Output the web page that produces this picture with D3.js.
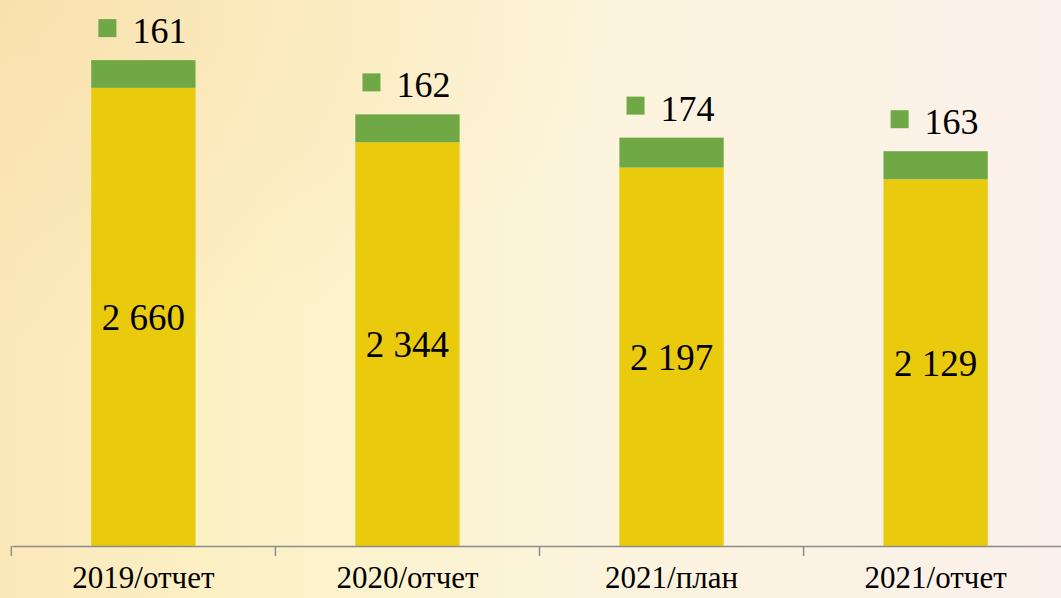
<!DOCTYPE html>
<html>
<head>
<meta charset="utf-8">
<script src="https://cdn.jsdelivr.net/npm/d3@7"></script>
<style>
    html, body { margin: 0; padding: 0; }
    #chart { width: 1061px; height: 598px; }
    svg text { font-family: "Liberation Serif", "Times New Roman", Times, serif; }
</style>
</head>
<body>
<div id="chart"></div>
<script>
// data
const categories = ["2019/отчет", "2020/отчет", "2021/план", "2021/отчет"];
const baseValues = [2660, 2344, 2197, 2129];
const topValues = [161, 162, 174, 163];

function createStackedChart() {
    const width = 1061;
    const height = 598;
    const serif = '"Liberation Serif", "Times New Roman", Times, serif';

    const svg = d3.select("#chart")
        .append("svg")
        .attr("width", width)
        .attr("height", height);

    // background gradient
    const defs = svg.append("defs");
    const bg = defs.append("linearGradient")
        .attr("id", "bg")
        .attr("x1", "0%").attr("y1", "0%")
        .attr("x2", "100%").attr("y2", "0%");
    bg.append("stop").attr("offset", "0%").attr("stop-color", "#fbe8b9");
    bg.append("stop").attr("offset", "25%").attr("stop-color", "#fcf2c8");
    bg.append("stop").attr("offset", "55%").attr("stop-color", "#fcf4dc");
    bg.append("stop").attr("offset", "100%").attr("stop-color", "#fbf1ec");

    const glow = defs.append("radialGradient")
        .attr("id", "glow")
        .attr("cx", "0%").attr("cy", "0%").attr("r", "60%");
    glow.append("stop").attr("offset", "0%").attr("stop-color", "#f8dca8").attr("stop-opacity", 0.6);
    glow.append("stop").attr("offset", "100%").attr("stop-color", "#f8dca8").attr("stop-opacity", 0);

    svg.append("rect").attr("width", width).attr("height", height).attr("fill", "url(#bg)");
    svg.append("rect").attr("width", width).attr("height", height).attr("fill", "url(#glow)");

    const baseline = 546;

    const x = d3.scaleBand()
        .domain(categories)
        .range([12, 1067])
        .paddingInner(0.605)
        .paddingOuter(0.3);

    const y = d3.scaleLinear()
        .domain([0, 3170])
        .range([baseline, 0]);

    const rows = categories.map((c, i) => ({
        cat: c, base: baseValues[i], top: topValues[i]
    }));

    // yellow segments
    svg.append("g")
        .selectAll("rect")
        .data(rows)
        .join("rect")
        .attr("x", d => x(d.cat))
        .attr("width", x.bandwidth())
        .attr("y", d => y(d.base))
        .attr("height", d => y(0) - y(d.base))
        .attr("fill", "#e9ca0d");

    // green segments
    svg.append("g")
        .selectAll("rect")
        .data(rows)
        .join("rect")
        .attr("x", d => x(d.cat))
        .attr("width", x.bandwidth())
        .attr("y", d => y(d.base + d.top))
        .attr("height", d => y(d.base) - y(d.base + d.top))
        .attr("fill", "#70a845");

    const fmt = v => d3.format(",")(v).replace(/,/g, " ");

    // yellow labels
    svg.append("g")
        .selectAll("text")
        .data(rows)
        .join("text")
        .attr("x", d => x(d.cat) + x.bandwidth() / 2)
        .attr("y", d => (y(d.base) + y(0)) / 2)
        .attr("dy", "0.35em")
        .attr("text-anchor", "middle")
        .attr("font-family", serif)
        .attr("font-size", 37)
        .attr("fill", "#000")
        .text(d => fmt(d.base));

    // green labels with legend key
    const tops = svg.append("g")
        .selectAll("g")
        .data(rows)
        .join("g")
        .attr("transform", d => `translate(${x(d.cat) + x.bandwidth() / 2},${y(d.base + d.top) - 17})`);

    tops.append("rect")
        .attr("x", -45)
        .attr("y", -24)
        .attr("width", 18)
        .attr("height", 18)
        .attr("fill", "#70a845");

    tops.append("text")
        .attr("x", -11)
        .attr("y", 0)
        .attr("font-family", serif)
        .attr("font-size", 36)
        .attr("fill", "#000")
        .text(d => fmt(d.top));

    // x axis
    const axis = svg.append("g")
        .attr("transform", `translate(0,${baseline})`)
        .call(d3.axisBottom(x).tickSize(0).tickSizeOuter(0).tickPadding(20));

    axis.attr("font-family", serif);
    axis.select(".domain").attr("stroke", "#8c8c8c").attr("stroke-width", 1.5);
    axis.selectAll(".tick text")
        .attr("dy", "0.71em")
        .attr("font-family", serif)
        .attr("font-size", 31)
        .attr("fill", "#000");

    // category separators
    const step = x.step();
    svg.append("g")
        .selectAll("line")
        .data(categories)
        .join("line")
        .attr("x1", d => x(d) - (step - x.bandwidth()) / 2)
        .attr("x2", d => x(d) - (step - x.bandwidth()) / 2)
        .attr("y1", baseline)
        .attr("y2", baseline + 10)
        .attr("stroke", "#8c8c8c")
        .attr("stroke-width", 1.5);
}

createStackedChart();
</script>
</body>
</html>
